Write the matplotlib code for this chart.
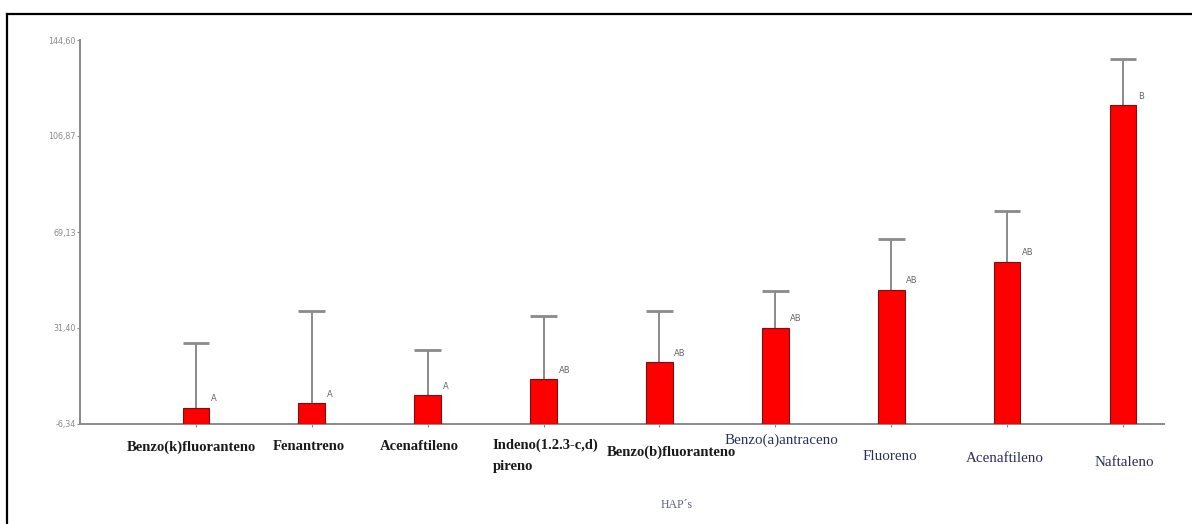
import numpy as np
import matplotlib
matplotlib.use("Agg")
import matplotlib.pyplot as plt
from matplotlib.lines import Line2D

# data
categories = ["Benzo(k)fluoranteno", "Fenantreno", "Acenaftileno",
              "Indeno(1.2.3-c,d)\npireno", "Benzo(b)fluoranteno",
              "Benzo(a)antraceno", "Fluoreno", "Acenaftileno", "Naftaleno"]
means = [0.0, 1.8, 5.0, 11.2, 17.9, 31.4, 46.4, 57.4, 118.9]
upper = [25.5, 38.2, 22.6, 36.1, 38.2, 45.9, 66.5, 77.5, 137.1]
groups = ["A", "A", "A", "AB", "AB", "AB", "AB", "AB", "B"]
yticks = [-6.34, 31.40, 69.13, 106.87, 144.60]
ytick_labels = ["-6,34", "31,40", "69,13", "106,87", "144,60"]

# label layout (pixel offsets from bar foot), bold for the first five
lab_dx = [-5, -3, -8, -51, 12, 6, -1, -2, 1]
lab_dy = [-23, -23, -23, -32, -28, -16, -33, -35, -38]
lab_ha = ["center", "center", "center", "left", "center", "center", "center", "center", "center"]
lab_bold = [True, True, True, True, True, False, False, False, False]

ymin = yticks[0]
x = np.arange(len(categories))
means = np.array(means)
upper = np.array(upper)
bw = 0.23

fig = plt.figure(figsize=(11.92, 5.24), dpi=100)
ax = fig.add_axes([80 / 1192, 1 - 424 / 524, 1084 / 1192, 384 / 524])

ax.bar(x, means - ymin, bottom=ymin, width=bw, color="#ff0000",
       edgecolor="#7a1010", linewidth=0.8, zorder=3)
# only the upper whisker, like the original
ax.vlines(x, means, upper, color="#8a8a8a", lw=1.4, zorder=2)
ax.hlines(upper, x - bw / 2, x + bw / 2, color="#8a8a8a", lw=2, zorder=2)

for xi, m, g in zip(x, means, groups):
    ax.annotate(g, xy=(xi, m), xytext=(15, 9), textcoords="offset pixels",
                ha="left", va="center", fontsize=6, color="#666666",
                family="DejaVu Sans")

for i, name in enumerate(categories):
    if lab_bold[i]:
        ax.annotate(name, xy=(x[i], ymin), xytext=(lab_dx[i], lab_dy[i]),
                    textcoords="offset pixels", ha=lab_ha[i], va="center",
                    fontsize=10.5, fontweight="bold", color="#1a1a1a",
                    family="Liberation Serif", linespacing=1.75)
    else:
        ax.annotate(name, xy=(x[i], ymin), xytext=(lab_dx[i], lab_dy[i]),
                    textcoords="offset pixels", ha=lab_ha[i], va="center",
                    fontsize=10.8, color="#2b2f5e", family="Liberation Serif")

ax.text(677 / 1192, 19 / 524, "HAP\u00b4s", transform=fig.transFigure,
        ha="center", va="center", fontsize=8.5, color="#5a5f80",
        family="Liberation Serif")

ax.set_xlim(-1.0, 8.354)
ax.set_ylim(ymin, yticks[-1])
ax.set_yticks(yticks)
ax.set_yticklabels(ytick_labels, fontsize=5.8, color="#707070")
ax.set_xticks(x)
ax.set_xticklabels([])
ax.tick_params(axis="both", colors="#8a8a8a", length=2, width=0.8, pad=1)
for s in ["top", "right"]:
    ax.spines[s].set_visible(False)
for s in ["left", "bottom"]:
    ax.spines[s].set_color("#8a8a8a")
    ax.spines[s].set_linewidth(1.4)

# outer frame (cut off at right and bottom like the reference)
fx = 7.5 / 1192
fy = 1 - 13.5 / 524
fig.add_artist(Line2D([fx, fx], [0, fy], color="black", lw=1.6))
fig.add_artist(Line2D([fx, 1], [fy, fy], color="black", lw=1.6))

fig.savefig("out.png", dpi=100)
